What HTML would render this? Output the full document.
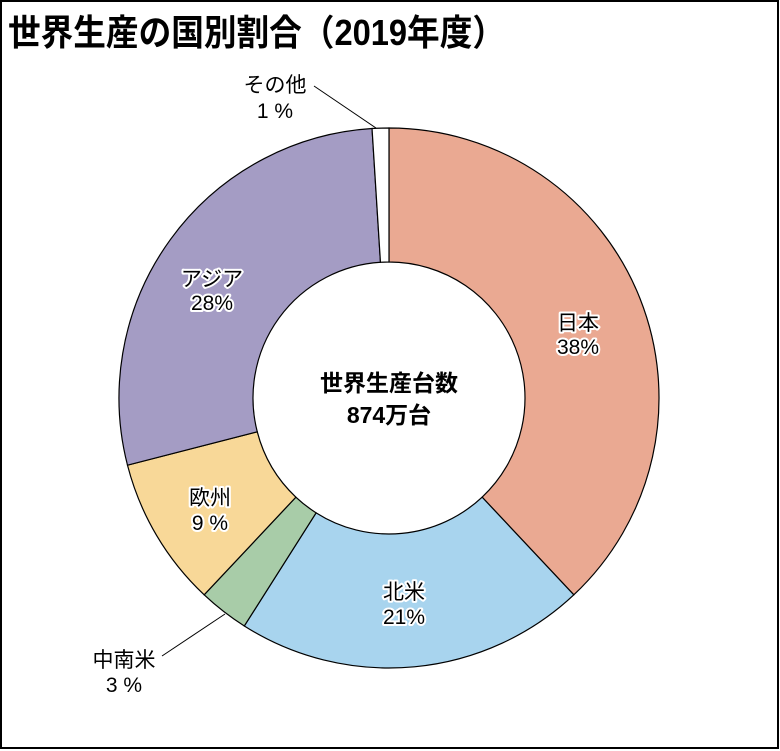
<!DOCTYPE html>
<html><head><meta charset="utf-8"><style>
html,body{margin:0;padding:0;background:#fff}
svg{display:block}
text{font-family:"Liberation Sans","Noto Sans CJK JP",sans-serif}
</style></head><body>
<svg id="s" width="780" height="751" viewBox="0 0 780 751">
<rect x="1" y="1" width="777" height="747" fill="#fff" stroke="#000" stroke-width="2"/>
<text x="8" y="45" font-size="36" font-weight="bold" textLength="497" lengthAdjust="spacingAndGlyphs">世界生産の国別割合（2019年度）</text>
<g id="pie"></g>
<line x1="314" y1="86" x2="376" y2="128" stroke="#000" stroke-width="1"/>
<line x1="162" y1="656" x2="225" y2="614" stroke="#000" stroke-width="1"/>
<g font-size="21" text-anchor="middle">
<text x="275" y="92">その他</text><text x="275" y="118">1 %</text>
<text x="124" y="667">中南米</text><text x="124" y="692">3 %</text>
</g>
<g font-size="21" text-anchor="middle" stroke="#fff" stroke-width="4" paint-order="stroke" stroke-linejoin="round">
<text x="578" y="330">日本</text><text x="578" y="354">38%</text>
<text x="404" y="599">北米</text><text x="404" y="624">21%</text>
<text x="210" y="505">欧州</text><text x="210" y="530">9 %</text>
<text x="212" y="286">アジア</text><text x="212" y="310">28%</text>
</g>
<g font-size="23" font-weight="bold" text-anchor="middle">
<text x="389" y="391">世界生産台数</text><text x="389" y="423">874万台</text>
</g>
</svg>
<script>
var cx=389,cy=398,R=270,r=136;
var d=[[38,"#eaa992"],[21,"#a8d4ee"],[3,"#a8cca8"],[9,"#f8d898"],[28,"#a49cc4"],[1,"#ffffff"]];
function p(a,rr){var t=a*Math.PI/180;return [cx+rr*Math.sin(t),cy-rr*Math.cos(t)];}
var a=0,h="";
d.forEach(function(s){var b=a+s[0]*3.6;var l=(b-a)>180?1:0;
var p1=p(a,R),p2=p(b,R),p3=p(b,r),p4=p(a,r);
h+='<path d="M'+p1+' A'+R+','+R+' 0 '+l+' 1 '+p2+' L'+p3+' A'+r+','+r+' 0 '+l+' 0 '+p4+' Z" fill="'+s[1]+'" stroke="#000" stroke-width="1.2"/>';
a=b;});
document.getElementById("pie").innerHTML=h;
</script>
</body></html>
